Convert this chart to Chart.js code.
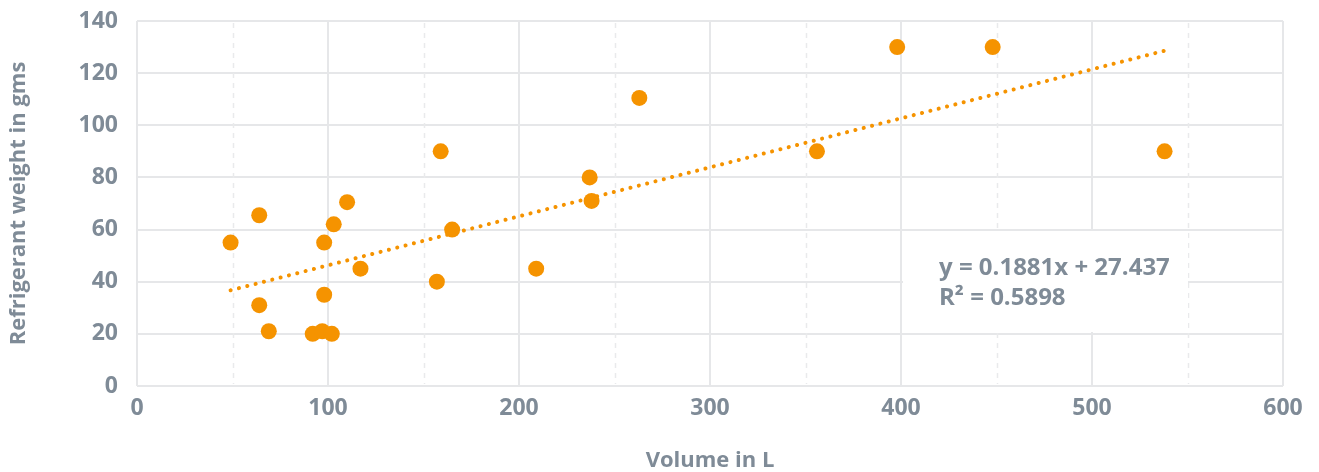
<!DOCTYPE html>
<html>
<head>
<meta charset="utf-8">
<script src="https://cdn.jsdelivr.net/npm/chart.js@4"></script>
<style>
  html, body { margin: 0; padding: 0; background: #fff; }
  #wrap { width: 1319px; height: 472px; }
</style>
</head>
<body>
<div id="wrap"><canvas id="chart"></canvas></div>
<script>
// ---- data ----
const volumeL = [49, 64, 64, 69, 92, 97, 102, 98, 98, 103, 110, 117, 159, 157, 165, 209, 237, 238, 263, 356, 398, 448, 538];
const weightG = [55, 65.5, 31, 21, 20, 21, 20, 55, 35, 62, 70.5, 45, 90, 40, 60, 45, 80, 71, 110.5, 90, 130, 130, 90];

// linear trendline ends (as drawn)
const trendX = [49, 538];
const trendY = [36.7, 128.6];

const equationLines = ["y = 0.1881x + 27.437", "R\u00B2 = 0.5898"];

const ORANGE = "#F59300";
const TEXT = "#7F8B97";
const GRID = "#E6E7E9";
const FONT = "'Open Sans', 'Noto Sans', sans-serif";

// ---- plugin: dashed minor grid + equation label box ----
const extras = {
    id: "extras",
    beforeDatasetsDraw(chart) {
        const ctx = chart.ctx;
        const xs = chart.scales.x;
        const area = chart.chartArea;

        // dashed lines at the half steps
        ctx.save();
        ctx.strokeStyle = "#E9EAEC";
        ctx.lineWidth = 1.5;
        ctx.setLineDash([5, 5]);
        xs.ticks.forEach(t => {
            if (t.value % 100 === 0) return;
            const px = Math.round(xs.getPixelForValue(t.value)) + 0.5;
            ctx.beginPath();
            ctx.moveTo(px, area.top + 2);
            ctx.lineTo(px, area.bottom - 2);
            ctx.stroke();
        });
        ctx.restore();

        // white label box with equation
        ctx.save();
        ctx.fillStyle = "#fff";
        ctx.fillRect(903, 231, 285, 101);
        ctx.fillStyle = TEXT;
        ctx.font = "bold 24px " + FONT;
        ctx.textBaseline = "alphabetic";
        ctx.textAlign = "left";
        ctx.fillText(equationLines[0], 939, 275);
        ctx.fillText(equationLines[1], 939, 305);
        ctx.restore();
    }
};

const points = volumeL.map((v, i) => ({ x: v, y: weightG[i] }));
const trend = trendX.map((v, i) => ({ x: v, y: trendY[i] }));

new Chart(document.getElementById("chart"), {
    type: "scatter",
    data: {
        datasets: [
            {
                label: "Refrigerant weight",
                data: points,
                backgroundColor: ORANGE,
                borderColor: ORANGE,
                pointRadius: 8,
                pointHoverRadius: 8,
                borderWidth: 0,
                order: 1
            },
            {
                label: "Trend",
                data: trend,
                type: "line",
                showLine: true,
                borderColor: ORANGE,
                borderWidth: 4,
                borderDash: [0.1, 8.5],
                borderCapStyle: "round",
                pointRadius: 0,
                fill: false,
                order: 2
            }
        ]
    },
    options: {
        responsive: true,
        maintainAspectRatio: false,
        animation: false,
        events: [],
        layout: { padding: { top: 21, right: 36, left: 0, bottom: 0 } },
        plugins: {
            legend: { display: false },
            tooltip: { enabled: false }
        },
        scales: {
            x: {
                type: "linear",
                min: 0,
                max: 600,
                ticks: {
                    stepSize: 50,
                    autoSkip: false,
                    maxRotation: 0,
                    color: TEXT,
                    font: { family: FONT, size: 23, weight: "bold" },
                    padding: 9,
                    callback: v => (v % 100 === 0 ? String(v) : "")
                },
                grid: {
                    color: c => (c.tick && c.tick.value % 100 === 0 ? GRID : "transparent"),
                    lineWidth: 2,
                    drawTicks: false
                },
                border: { display: false },
                title: {
                    display: true,
                    text: "Volume in L",
                    color: TEXT,
                    font: { family: FONT, size: 22, weight: "bold", lineHeight: 1 },
                    padding: { top: 22, bottom: 0 }
                },
                afterFit(scale) { scale.height = 86; }
            },
            y: {
                min: 0,
                max: 140,
                ticks: {
                    stepSize: 20,
                    color: TEXT,
                    font: { family: FONT, size: 23, weight: "bold" },
                    padding: 0
                },
                grid: {
                    color: GRID,
                    lineWidth: 2,
                    drawTicks: true,
                    tickLength: 19,
                    tickColor: "transparent"
                },
                border: { display: false },
                title: {
                    display: true,
                    text: "Refrigerant weight in gms",
                    color: TEXT,
                    font: { family: FONT, size: 22, weight: "bold" },
                    padding: { top: 6, bottom: 0 }
                },
                afterFit(scale) { scale.width = 137; }
            }
        }
    },
    plugins: [extras]
});
</script>
</body>
</html>
